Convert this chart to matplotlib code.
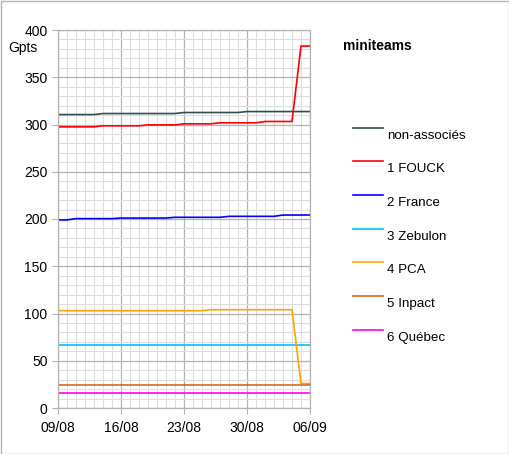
import datetime
import matplotlib
matplotlib.use("Agg")
import matplotlib.pyplot as plt
import matplotlib.dates as mdates
from matplotlib.ticker import MultipleLocator

plt.rcParams["font.family"] = ["Liberation Sans", "DejaVu Sans"]

# daily points, 09/08 -> 06/09
start = datetime.date(2021, 8, 9)
dates = [start + datetime.timedelta(days=i) for i in range(29)]

non_associes = [310.5, 310.5, 310.5, 310.5, 310.5,
                311.6, 311.6, 311.6, 311.6, 311.6, 311.6, 311.6, 311.6, 311.6,
                312.7, 312.7, 312.7, 312.7, 312.7, 312.7, 312.7,
                313.7, 313.7, 313.7, 313.7, 313.7, 313.7, 313.7, 313.7]
fouck = [297.5, 297.5, 297.5, 297.5, 297.5,
         298.6, 298.6, 298.6, 298.6, 298.6,
         299.6, 299.6, 299.6, 299.6,
         300.7, 300.7, 300.7, 300.7,
         301.8, 301.8, 301.8, 301.8, 301.8,
         303.2, 303.2, 303.2, 303.2,
         383, 383]
france = [199, 199,
          200.4, 200.4, 200.4, 200.4, 200.4,
          201, 201, 201, 201, 201, 201,
          201.8, 201.8, 201.8, 201.8, 201.8, 201.8,
          202.8, 202.8, 202.8, 202.8, 202.8, 202.8,
          204.2, 204.2, 204.2, 204.2]
zebulon = [66.3, 66.3, 66.3, 66.3, 66.3, 66.3, 66.3, 66.3, 66.3, 66.3,
           66.3, 66.3, 66.3, 66.3, 66.3, 66.3, 66.3, 66.3, 66.3, 66.3,
           66.3, 66.3, 66.3, 66.3, 66.3, 66.3, 66.3, 66.3, 66.3]
pca = [103, 103, 103, 103, 103, 103, 103, 103, 103, 103,
       103, 103, 103, 103, 103, 103, 103,
       104, 104, 104, 104, 104, 104, 104, 104, 104, 104,
       26, 26]
inpact = [24, 24, 24, 24, 24, 24, 24, 24, 24, 24,
          24, 24, 24, 24, 24, 24, 24, 24, 24, 24,
          24, 24, 24, 24, 24, 24, 24, 24, 24]
quebec = [15.5, 15.5, 15.5, 15.5, 15.5, 15.5, 15.5, 15.5, 15.5, 15.5,
          15.5, 15.5, 15.5, 15.5, 15.5, 15.5, 15.5, 15.5, 15.5, 15.5,
          15.5, 15.5, 15.5, 15.5, 15.5, 15.5, 15.5, 15.5, 15.5]

labels = ["non-associés", "1 FOUCK", "2 France", "3 Zebulon", "4 PCA", "5 Inpact", "6 Québec"]
series = [non_associes, fouck, france, zebulon, pca, inpact, quebec]
colors = ["#2f4f4f", "#ff0000", "#0000ff", "#00bfff", "#ffa500", "#d2691e", "#ff00ff"]

fig = plt.figure(figsize=(5.10, 4.54), dpi=100)
fig.patch.set_facecolor("white")
ax = fig.add_axes([58 / 510, 1 - 408 / 454, 252 / 510, 378 / 454])

for vals, lab, col in zip(series, labels, colors):
    ax.plot(dates, vals, color=col, lw=1.2, label=lab)

ax.set_xlim(dates[0], dates[-1])
ax.set_ylim(0, 400)
ax.yaxis.set_major_locator(MultipleLocator(50))
ax.yaxis.set_minor_locator(MultipleLocator(10))
ax.xaxis.set_major_locator(mdates.DayLocator(bymonthday=[9, 16, 23, 30, 6]))
ax.xaxis.set_minor_locator(mdates.DayLocator())
ax.xaxis.set_major_formatter(mdates.DateFormatter("%d/%m"))

ax.grid(which="major", color="#b3b3b3", lw=0.9)
ax.grid(which="minor", color="#dddddd", lw=0.8)
ax.set_axisbelow(True)
for sp in ax.spines.values():
    sp.set_color("#b3b3b3")
    sp.set_linewidth(0.9)
ax.tick_params(which="major", length=4, color="#b3b3b3", labelsize=10)
ax.tick_params(axis="x", which="major", pad=5)
ax.tick_params(which="minor", length=0)

fig.text(8 / 510, 1 - 48 / 454, "Gpts", fontsize=10, va="center", ha="left")
fig.text(343 / 510, 1 - 46 / 454, "miniteams", fontsize=10, fontweight="bold",
         va="center", ha="left")

leg = fig.legend(loc="upper left", bbox_to_anchor=(348 / 510, 1 - 124 / 454),
                 frameon=False, fontsize=9.6, handlelength=2.2, handletextpad=0.3,
                 labelspacing=1.6, borderaxespad=0)
# legend keys sit a little above their labels, as in the original
for h in leg.legend_handles:
    y = h.get_ydata()
    h.set_ydata([v + 4.5 for v in y])

border = plt.Rectangle((0.001, 0.001), 0.997, 0.997, transform=fig.transFigure,
                       fill=False, edgecolor="#b3b3b3", lw=1)
fig.add_artist(border)

fig.savefig("out.png", dpi=100)
